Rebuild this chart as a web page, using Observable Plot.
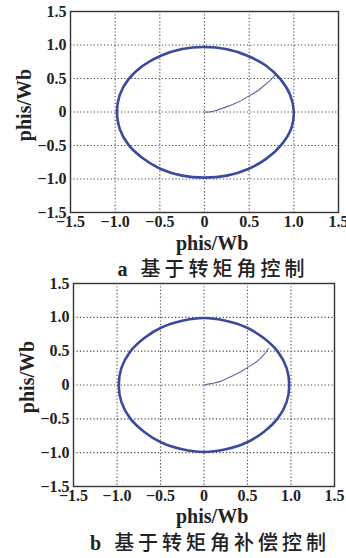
<!DOCTYPE html>
<html>
<head>
<meta charset="utf-8">
<script src="https://cdn.jsdelivr.net/npm/d3@7"></script>
<script src="https://cdn.jsdelivr.net/npm/@observablehq/plot@0.6"></script>
<style>
  html, body { margin: 0; padding: 0; background: #fff; }
  #wrap { position: relative; width: 346px; height: 558px; overflow: hidden; }
  #wrap svg { position: absolute; left: 0; }
  .lbl { position: absolute; font-family: "Liberation Serif", "DejaVu Serif", serif; font-weight: bold; font-size: 20px; color: #222; white-space: nowrap; line-height: 1; }
  .cap { position: absolute; font-size: 20px; color: #222; white-space: nowrap; line-height: 1; letter-spacing: 4px; }
  .cap .l { font-family: "Liberation Serif", serif; font-weight: bold; }
  .cap .c { font-family: "Noto Sans CJK SC", sans-serif; font-weight: 500; }
</style>
</head>
<body>
<div id="wrap"></div>
<script>
// ---- data ----
const tickValues = [-1.5, -1, -0.5, 0, 0.5, 1, 1.5];
const tickLabels = ["−1.5", "−1.0", "−0.5", "0", "0.5", "1.0", "1.5"];
const gridValues = [-1, -0.5, 0, 0.5, 1];
const axisLabel = "phis/Wb";
const captionA = ["a", "基于转矩角控制"];
const captionB = ["b", "基于转矩角补偿控制"];

// panel a: flux circle
const circleAx = [1.00, 0.96, 0.85, 0.69, 0.48, 0.24, 0.00, -0.25, -0.49, -0.69, -0.85, -0.95, -0.98, -0.95, -0.85, -0.69, -0.49, -0.25, 0.00, 0.25, 0.49, 0.69, 0.86, 0.97];
const circleAy = [0.00, 0.25, 0.49, 0.69, 0.84, 0.94, 0.97, 0.94, 0.84, 0.69, 0.49, 0.25, 0.00, -0.25, -0.49, -0.69, -0.85, -0.95, -0.98, -0.95, -0.85, -0.70, -0.49, -0.25];
// panel a: start-up trajectory
const trajAx = [0, 0.05, 0.12, 0.25, 0.38, 0.50, 0.60, 0.68, 0.74, 0.79];
const trajAy = [0, 0.00, 0.02, 0.08, 0.15, 0.24, 0.32, 0.41, 0.48, 0.55];

// panel b
const circleBx = [0.98, 0.95, 0.85, 0.69, 0.49, 0.25, 0.00, -0.25, -0.49, -0.69, -0.85, -0.95, -0.98, -0.95, -0.85, -0.69, -0.49, -0.25, 0.00, 0.25, 0.49, 0.69, 0.85, 0.95];
const circleBy = [0.00, 0.25, 0.49, 0.69, 0.85, 0.95, 0.99, 0.95, 0.85, 0.69, 0.49, 0.25, 0.00, -0.25, -0.49, -0.69, -0.85, -0.95, -0.99, -0.95, -0.85, -0.69, -0.49, -0.25];
const trajBx = [0, 0.08, 0.18, 0.30, 0.40, 0.50, 0.60, 0.66, 0.71, 0.74];
const trajBy = [0, 0.02, 0.05, 0.12, 0.18, 0.26, 0.34, 0.41, 0.48, 0.54];

const zip = (xs, ys) => xs.map((x, i) => ({x, y: ys[i]}));
const fmt = d => tickLabels[tickValues.indexOf(d)];

function panel({circle, traj, top, height, mt, mb, ml, mr}) {
  const svg = Plot.plot({
    width: 346,
    height,
    marginTop: mt, marginBottom: mb, marginLeft: ml, marginRight: mr,
    style: {fontFamily: "'Liberation Serif', serif", fontSize: "16px", color: "#222", background: "transparent", overflow: "visible"},
    x: {domain: [-1.5, 1.5]},
    y: {domain: [-1.5, 1.5]},
    marks: [
      Plot.gridX(gridValues, {stroke: "#3a3030", strokeOpacity: 0.9, strokeDasharray: "1.2,2.2", strokeWidth: 1.1}),
      Plot.gridY(gridValues, {stroke: "#3a3030", strokeOpacity: 0.9, strokeDasharray: "1.2,2.2", strokeWidth: 1.1}),
      Plot.axisX(tickValues, {tickSize: 0, tickPadding: 3, tickFormat: fmt, label: null, fontWeight: "bold"}),
      Plot.axisY(tickValues, {tickSize: 0, tickPadding: 4, tickFormat: fmt, label: null, fontWeight: "bold"}),
      Plot.line(traj, {x: "x", y: "y", stroke: "#6b62a8", strokeWidth: 1.1, curve: "catmull-rom"}),
      Plot.line(circle, {x: "x", y: "y", stroke: "#3b4a9c", strokeWidth: 2.6, curve: "catmull-rom-closed"}),
      Plot.frame({stroke: "#333", strokeWidth: 1.4})
    ]
  });
  svg.style.top = top + "px";
  return svg;
}

const wrap = document.getElementById("wrap");
wrap.appendChild(panel({circle: zip(circleAx, circleAy), traj: zip(trajAx, trajAy), top: 0, height: 232, mt: 11, mb: 20, ml: 70, mr: 8}));
wrap.appendChild(panel({circle: zip(circleBx, circleBy), traj: zip(trajBx, trajBy), top: 272, height: 234, mt: 11, mb: 20, ml: 73, mr: 12}));

function addLabel(text, cx, cy, rotate) {
  const d = document.createElement("div");
  d.className = "lbl";
  d.textContent = text;
  wrap.appendChild(d);
  const w = d.offsetWidth, h = d.offsetHeight;
  d.style.left = (cx - w / 2) + "px";
  d.style.top = (cy - h / 2) + "px";
  if (rotate) d.style.transform = "rotate(-90deg)";
}
function addCaption(parts, cx, cy) {
  const d = document.createElement("div");
  d.className = "cap";
  d.innerHTML = `<span class="l">${parts[0]}</span> <span class="c">${parts[1]}</span>`;
  wrap.appendChild(d);
  const w = d.offsetWidth, h = d.offsetHeight;
  d.style.left = (cx - w / 2) + "px";
  d.style.top = (cy - h / 2) + "px";
}
addLabel(axisLabel, 212, 243, false);
addLabel(axisLabel, 24, 105, true);
addCaption(captionA, 213, 268);
addLabel(axisLabel, 212, 516, false);
addLabel(axisLabel, 27, 377, true);
addCaption(captionB, 210, 542);
</script>
</body>
</html>
